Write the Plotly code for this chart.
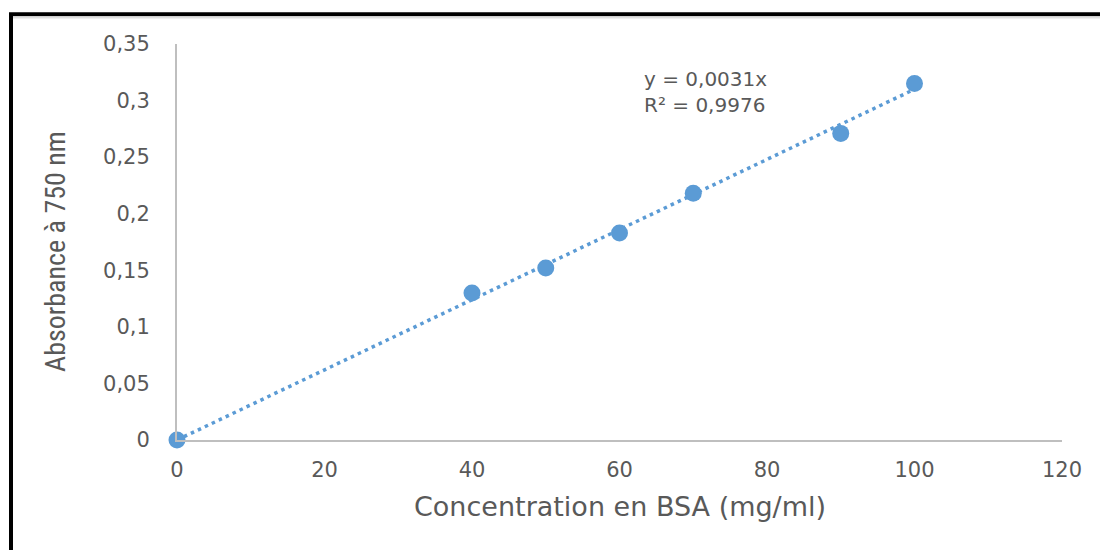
import plotly.graph_objects as go

conc = [0, 40, 50, 60, 70, 90, 100]
absorb = [0, 0.130, 0.152, 0.183, 0.218, 0.271, 0.315]
slope = 0.0031
r2_text = "R² = 0,9976"
eq_text = "y = 0,0031x"
trend_x = [0, 100]
trend_y = [slope * v for v in trend_x]

y_ticks = [0, 0.05, 0.1, 0.15, 0.2, 0.25, 0.3, 0.35]
y_ticktext = ["0", "0,05", "0,1", "0,15", "0,2", "0,25", "0,3", "0,35"]
x_ticks = [0, 20, 40, 60, 80, 100, 120]
x_ticktext = ["0", "20", "40", "60", "80", "100", "120"]

blue = "#5B9BD5"
grey_txt = "#595959"
axis_grey = "#BFBFBF"
font_main = "DejaVu Sans, Noto Sans, sans-serif"
font_narrow = "Liberation Sans Narrow, Roboto Condensed, Noto Sans, sans-serif"

fig = go.Figure()
fig.add_trace(go.Scatter(x=trend_x, y=trend_y, mode="lines",
                         line=dict(color=blue, width=3.5, dash="3.5px,4.2px"),
                         hoverinfo="skip", showlegend=False, cliponaxis=False))
fig.add_trace(go.Scatter(x=conc, y=absorb, mode="markers",
                         marker=dict(color=blue, size=17),
                         showlegend=False, cliponaxis=False))

# page body has an 8px margin, so the svg is 8px smaller than the window
W, H = 1100, 542
PL, PR, PT, PB = 177, 1062, 44, 440   # plot area in window pixels
L, T = PL - 8, PT - 8
R = W - (PR - 8)
B = H - (PB - 8)

def px_to_paper_x(px):
    return (px - PL) / (PR - PL)

def px_to_paper_y(py):
    return (PB - py) / (PB - PT)

fig.add_shape(type="rect", xref="paper", yref="paper",
              x0=px_to_paper_x(11), x1=px_to_paper_x(1125),
              y0=px_to_paper_y(575), y1=px_to_paper_y(14.3),
              line=dict(color="black", width=4), fillcolor="rgba(0,0,0,0)",
              layer="below")
fig.add_shape(type="line", xref="paper", yref="paper",
              x0=px_to_paper_x(13), x1=px_to_paper_x(1125),
              y0=px_to_paper_y(17.5), y1=px_to_paper_y(17.5),
              line=dict(color="#E0E0E0", width=2), layer="below")

fig.add_annotation(x=63.0, y=0.3314, xref="x", yref="y",
                   text=eq_text + "<br>" + r2_text, showarrow=False,
                   xanchor="left", yanchor="top", align="left",
                   font=dict(family=font_main, size=20, color=grey_txt))

fig.add_annotation(x=0.5, y=px_to_paper_y(507), xref="paper", yref="paper",
                   text="Concentration en BSA (mg/ml)", showarrow=False,
                   xanchor="center", yanchor="middle",
                   font=dict(family=font_main, size=27, color=grey_txt))
fig.add_annotation(x=px_to_paper_x(55), y=px_to_paper_y(252), xref="paper", yref="paper",
                   text="Absorbance à 750 nm", showarrow=False, textangle=-90,
                   xanchor="center", yanchor="middle",
                   font=dict(family=font_narrow, size=28, color=grey_txt))

fig.update_layout(
    width=W, height=H,
    margin=dict(l=L, r=R, t=T, b=B),
    paper_bgcolor="white", plot_bgcolor="white",
    separators=", ",
    font=dict(family=font_main, color=grey_txt),
    xaxis=dict(range=[0, 120], tickvals=x_ticks, ticktext=x_ticktext,
               showgrid=False, zeroline=False, showline=True,
               linecolor=axis_grey, linewidth=2, ticks="",
               tickfont=dict(size=21, color=grey_txt),
               ticklabelstandoff=10),
    yaxis=dict(range=[0, 0.35], tickvals=y_ticks, ticktext=y_ticktext,
               showgrid=False, zeroline=False, showline=True,
               linecolor=axis_grey, linewidth=2, ticks="",
               tickfont=dict(size=21, color=grey_txt),
               ticklabelstandoff=21),
)

fig.write_html("out.html")
